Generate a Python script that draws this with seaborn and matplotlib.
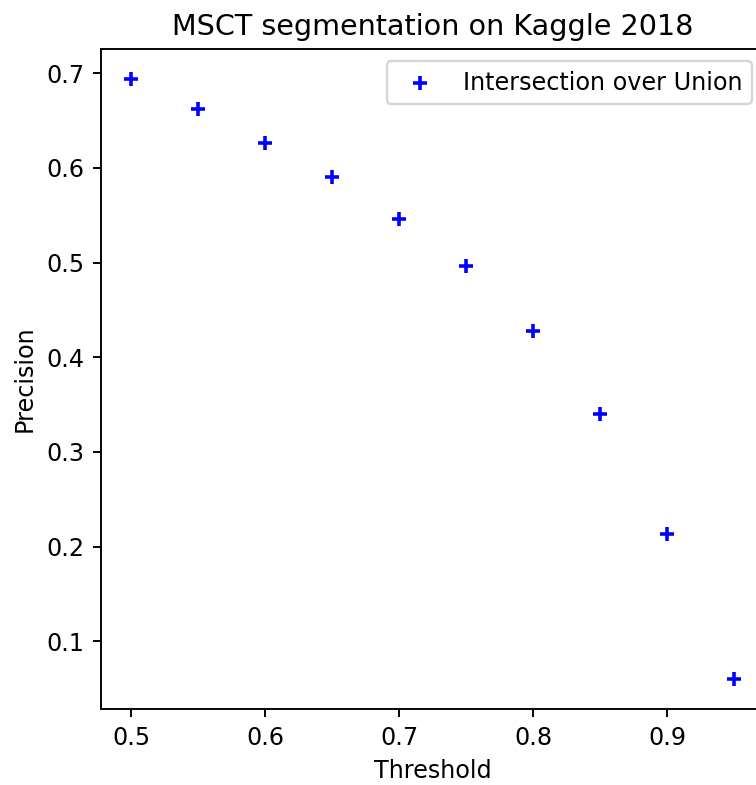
import matplotlib
matplotlib.use("Agg")
import matplotlib.pyplot as plt
import seaborn as sns
import pandas as pd

thresholds = [0.50, 0.55, 0.60, 0.65, 0.70, 0.75, 0.80, 0.85, 0.90, 0.95]
precision = [0.694, 0.662, 0.626, 0.590, 0.546, 0.496, 0.428, 0.340, 0.213, 0.060]
series_label = "Intersection over Union"

df = pd.DataFrame({"Threshold": thresholds, "Precision": precision})

W, H, DPI = 756, 785, 172
fig = plt.figure(figsize=(W / DPI, H / DPI), dpi=DPI)
ax = fig.add_axes([101 / W, (H - 709) / H, (764 - 101) / W, (709 - 49) / H])

sns.scatterplot(data=df, x="Threshold", y="Precision", marker="+", color="blue",
                s=36, linewidth=1.5, label=series_label, ax=ax)
ax.set_xticks([0.5, 0.6, 0.7, 0.8, 0.9])
ax.set_title("MSCT segmentation on Kaggle 2018")
ax.legend(loc="upper right")

fig.savefig("out.png", dpi=DPI)
